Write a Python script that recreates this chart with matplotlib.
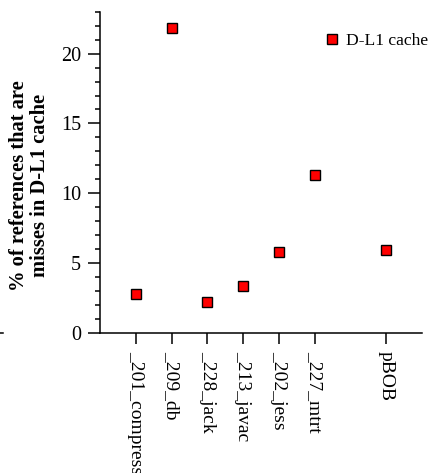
import matplotlib
matplotlib.use("Agg")
import matplotlib.pyplot as plt
from matplotlib.ticker import MultipleLocator
from matplotlib.lines import Line2D

categories = ["_201_compress", "_209_db", "_228_jack", "_213_javac", "_202_jess", "_227_mtrt", "pBOB"]
positions = [1, 2, 3, 4, 5, 6, 8]
values = [2.8, 21.8, 2.2, 3.4, 5.8, 11.3, 5.95]

plt.rcParams['font.family'] = ['Liberation Serif', 'DejaVu Serif']

W, H = 430, 473
fig = plt.figure(figsize=(W/100, H/100), dpi=100)
ax = fig.add_axes([100/W, 1-333/H, (422-100)/W, (333-11.7)/H])

ax.plot(positions, values, linestyle='none', marker='s', markersize=7.5,
        markerfacecolor='#ff0000', markeredgecolor='black', markeredgewidth=1.0,
        label='D-L1 cache', clip_on=False)

ax.set_xlim(0, 9)
ax.set_ylim(0, 23)
ax.set_xticks(positions)
ax.set_xticklabels(categories, rotation=-90, fontsize=14, va='top', ha='center')
ax.yaxis.set_major_locator(MultipleLocator(5))
ax.yaxis.set_minor_locator(MultipleLocator(1))
ax.tick_params(axis='y', which='major', length=8.5, width=1.1, labelsize=14.5, pad=5, direction='out')
ax.tick_params(axis='y', which='minor', length=3.6, width=1.1, direction='out')
ax.tick_params(axis='x', which='major', length=8, width=1.1, pad=5, direction='out')
ax.tick_params(axis='x', which='minor', bottom=False)

for s in ['top', 'right']:
    ax.spines[s].set_visible(False)
for s in ['left', 'bottom']:
    ax.spines[s].set_linewidth(1.1)

ax.set_ylabel("% of references that are\nmisses in D-L1 cache", fontsize=14.8,
              fontweight='bold', linespacing=1.05)
ax.yaxis.set_label_coords(-50/322, 0.46)

leg = ax.legend(loc='upper left', bbox_to_anchor=(321/W, 1-33/H), bbox_transform=fig.transFigure,
                frameon=False, fontsize=12.6, handletextpad=0.25, markerscale=1.0,
                borderpad=0, borderaxespad=0, handlelength=1.2)

fig.add_artist(Line2D([0, 3/W], [1-333/H, 1-333/H], color='black', linewidth=1.1,
                      transform=fig.transFigure))

fig.savefig("out.png", dpi=100)
